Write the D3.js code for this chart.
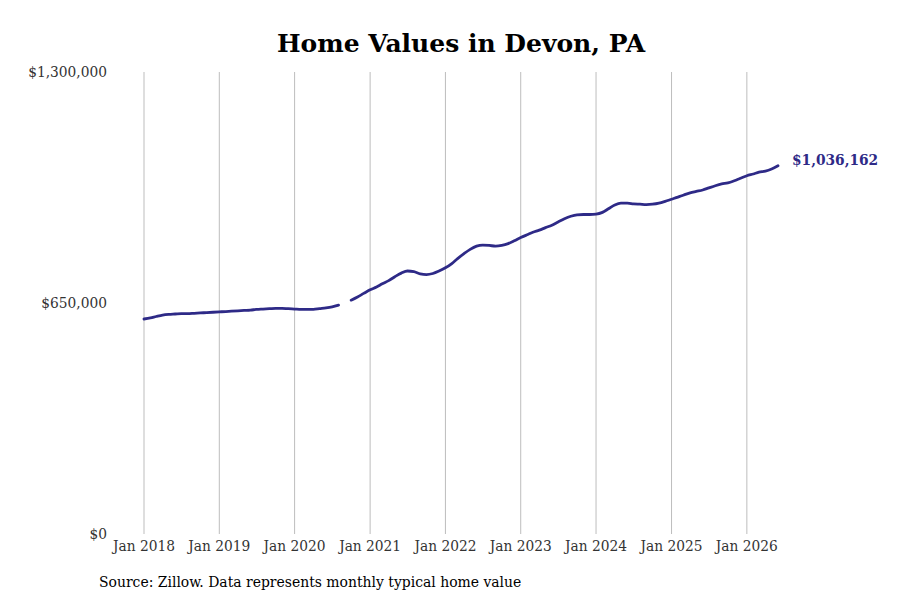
<!DOCTYPE html>
<html>
<head>
<meta charset="utf-8">
<script src="https://cdn.jsdelivr.net/npm/d3@7"></script>
<style>
  body { margin: 0; background: #fff; }
  svg text { font-family: "DejaVu Serif", serif; font-stretch: condensed; }
</style>
</head>
<body>
<div id="wrapper"></div>
<script>
// monthly typical home value, Jan 2018 .. Jun 2026 (null = missing month)
const startMonth = "2018-01";
const values = [
  // 2018
  605000, 608000, 612000, 616000, 618000, 619000, 620000, 620000, 621000, 622000, 623000, 624000,
  // 2019
  625000, 626000, 627000, 628000, 629000, 630000, 632000, 633000, 634000, 635000, 635000, 634000,
  // 2020
  633000, 632000, 632000, 632000, 634000, 636000, 639000, 644000, null, 658000, 667000, 677000,
  // 2021
  687000, 695000, 704000, 713000, 724000, 734000, 740000, 738000, 732000, 730000, 733000, 740000,
  // 2022
  749000, 761000, 775000, 789000, 801000, 810000, 813000, 812000, 810000, 812000, 817000, 825000,
  // 2023
  834000, 842000, 849000, 855000, 862000, 869000, 878000, 887000, 894000, 898000, 899000, 899000,
  // 2024
  900000, 905000, 915000, 926000, 931000, 931000, 929000, 928000, 927000, 928000, 931000, 936000,
  // 2025
  942000, 948000, 954000, 960000, 964000, 968000, 974000, 980000, 985000, 988000, 994000, 1001000,
  // 2026
  1008000, 1013000, 1018000, 1021000, 1027000, 1036162,
];
const yTicks = [0, 650000, 1300000];
const xTickYears = [2018, 2019, 2020, 2021, 2022, 2023, 2024, 2025, 2026];
const title = "Home Values in Devon, PA";
const source = "Source: Zillow. Data represents monthly typical home value";

const parseMonth = d3.timeParse("%Y-%m");
const start = parseMonth(startMonth);
const data = values.map((v, i) => ({ date: d3.timeMonth.offset(start, i), value: v }));

// dimensions
const dimensions = {
  width: 900,
  height: 600,
  margin: { top: 72, right: 122, bottom: 66, left: 144 },
};

const svg = d3
  .select("#wrapper")
  .append("svg")
  .attr("width", dimensions.width)
  .attr("height", dimensions.height);

// scales
const xScale = d3
  .scaleTime()
  .domain(d3.extent(data, (d) => d.date))
  .range([dimensions.margin.left, dimensions.width - dimensions.margin.right]);

const yScale = d3
  .scaleLinear()
  .domain([0, 1300000])
  .range([dimensions.height - dimensions.margin.bottom, dimensions.margin.top]);

// title
svg
  .append("text")
  .attr("x", 461)
  .attr("y", 52)
  .attr("text-anchor", "middle")
  .style("font-size", "25px")
  .style("font-weight", "bold")
  .style("font-stretch", "normal")
  .attr("fill", "#000")
  .text(title);

// vertical grid
const xTicks = xTickYears.map((y) => new Date(y, 0, 1));
svg
  .append("g")
  .selectAll("line")
  .data(xTicks)
  .join("line")
  .attr("x1", (d) => xScale(d))
  .attr("x2", (d) => xScale(d))
  .attr("y1", yScale(1300000))
  .attr("y2", yScale(0))
  .attr("stroke", "#bdbdbd")
  .attr("stroke-width", 1);

// x labels
const fmtMonth = d3.timeFormat("%b %Y");
svg
  .append("g")
  .selectAll("text")
  .data(xTicks)
  .join("text")
  .attr("x", (d) => xScale(d))
  .attr("y", yScale(0) + 17)
  .attr("text-anchor", "middle")
  .style("font-size", "15.3px")
  .attr("fill", "#333")
  .text(fmtMonth);

// y labels
const fmtMoney = d3.format("$,");
svg
  .append("g")
  .selectAll("text")
  .data(yTicks)
  .join("text")
  .attr("x", 107)
  .attr("y", (d) => yScale(d) + 5)
  .attr("text-anchor", "end")
  .style("font-size", "15.3px")
  .attr("fill", "#333")
  .text((d) => fmtMoney(d));

// line
const line = d3
  .line()
  .defined((d) => d.value != null)
  .x((d) => xScale(d.date))
  .y((d) => yScale(d.value))
  .curve(d3.curveMonotoneX);

svg
  .append("path")
  .datum(data)
  .attr("fill", "none")
  .attr("stroke", "#2e2a87")
  .attr("stroke-width", 2.8)
  .attr("stroke-linecap", "round")
  .attr("d", line);

// end label
const last = data[data.length - 1];
svg
  .append("text")
  .attr("x", xScale(last.date) + 14)
  .attr("y", yScale(last.value) - 1)
  .style("font-size", "15.3px")
  .style("font-weight", "bold")
  .attr("fill", "#2e2a87")
  .text(fmtMoney(last.value).replace(/\.\d+$/, ""));

// source
svg
  .append("text")
  .attr("x", 99)
  .attr("y", 587)
  .style("font-size", "15.5px")
  .attr("fill", "#000")
  .text(source);
</script>
</body>
</html>
